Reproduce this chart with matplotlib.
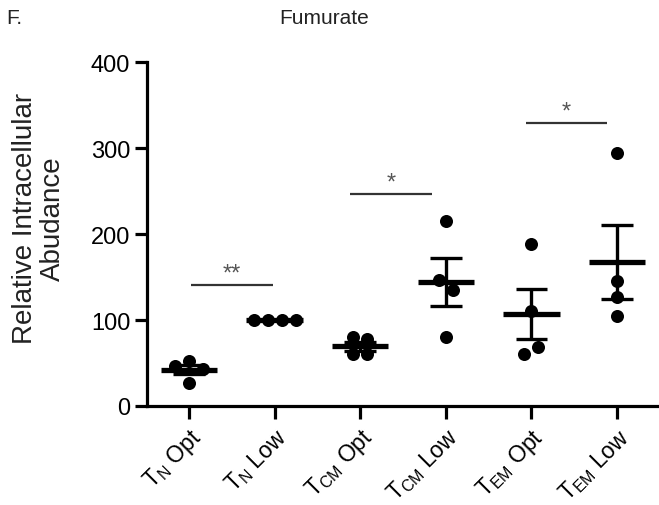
import matplotlib
matplotlib.use("Agg")
import matplotlib.pyplot as plt
import numpy as np

plt.rcParams["font.family"] = ["Liberation Sans", "DejaVu Sans"]
plt.rcParams["mathtext.fontset"] = "custom"
plt.rcParams["mathtext.rm"] = "Liberation Sans"
plt.rcParams["mathtext.it"] = "Liberation Sans:italic"

# values (relative intracellular abundance, fumarate)
tn_opt = [52, 43, 46, 27]
tn_low = [100, 100, 100, 100]
tcm_opt = [80, 78, 60, 60]
tcm_low = [215, 146, 135, 80]
tem_opt = [188, 110, 60, 69]
tem_low = [294, 145, 127, 105]
groups = [tn_opt, tn_low, tcm_opt, tcm_low, tem_opt, tem_low]

tick_labels = [
    r"T$_{\mathrm{N}}$ Opt",
    r"T$_{\mathrm{N}}$ Low",
    r"T$_{\mathrm{CM}}$ Opt",
    r"T$_{\mathrm{CM}}$ Low",
    r"T$_{\mathrm{EM}}$ Opt",
    r"T$_{\mathrm{EM}}$ Low",
]

# significance annotations: (label, bracket height, start, end in group units)
sig_labels = ["**", "*", "*"]
sig_heights = [141, 246, 329]
sig_spans = [(0.02, 0.98), (1.88, 2.84), (3.94, 4.88)]


def swarm_offsets(vals, ax, diam_px=14.0, step_px=7.0):
    """Greedy beeswarm in pixel space, clusters re-centred on the column."""
    x0, y0 = ax.transData.transform((0, 0))
    x1, y1 = ax.transData.transform((1, 1))
    px_x, px_y = x1 - x0, y1 - y0
    ys = np.asarray(vals, float) * px_y
    placed = []
    for y in ys:
        k = 0
        while True:
            for cand in ([0.0] if k == 0 else [k * step_px, -k * step_px]):
                if all((cand - px) ** 2 + (y - py) ** 2 >= diam_px ** 2 - 1e-6
                       for px, py in placed):
                    placed.append((cand, y))
                    break
            else:
                k += 1
                continue
            break
    offs = np.array([p[0] for p in placed])
    # group points chained by vertical proximity and centre each group
    order = np.argsort(ys)
    cluster = [order[0]]
    clusters = []
    for a, b in zip(order[:-1], order[1:]):
        if ys[b] - ys[a] < diam_px:
            cluster.append(b)
        else:
            clusters.append(cluster)
            cluster = [b]
    clusters.append(cluster)
    for c in clusters:
        mid = (offs[c].max() + offs[c].min()) / 2
        offs[c] -= mid
    return offs / px_x


fig = plt.figure(figsize=(6.59, 5.06), dpi=100)
ax = fig.add_axes([147 / 659, 1 - 407 / 506, 1 - 147 / 659, 344 / 506])
ax.set_xlim(-0.49, 5.49)
ax.set_ylim(0, 400)

for i, vals in enumerate(groups):
    offs = swarm_offsets(vals, ax)
    ax.scatter(i + offs, vals, s=88, color="black", zorder=3, linewidths=0)
    m = np.mean(vals)
    sem = np.std(vals, ddof=1) / np.sqrt(len(vals))
    ax.hlines(m, i - 0.33, i + 0.33, color="black", linewidth=3.8, zorder=4)
    if sem > 0:
        ax.vlines(i, m - sem, m + sem, color="black", linewidth=2.4, zorder=4)
        ax.hlines([m - sem, m + sem], i - 0.185, i + 0.185,
                  color="black", linewidth=2.4, zorder=4)

for lab, h, (a, b) in zip(sig_labels, sig_heights, sig_spans):
    ax.plot([a, b], [h, h], color="#333333", linewidth=1.6, solid_capstyle="butt")
    ax.annotate(lab, xy=((a + b) / 2, h), xytext=(0, 4), textcoords="offset points",
                ha="center", va="baseline", fontsize=17, color="#555555")

for s in ["top", "right"]:
    ax.spines[s].set_visible(False)
for s in ["left", "bottom"]:
    ax.spines[s].set_linewidth(2.3)

ax.set_yticks([0, 100, 200, 300, 400])
ax.set_xticks(range(len(groups)))
ax.set_xticklabels(tick_labels, rotation=45, ha="right", va="top",
                   rotation_mode="anchor", fontsize=16.5)
ax.tick_params(axis="both", direction="out", length=9, width=2.3, labelsize=17)
ax.tick_params(axis="x", labelsize=16.5, pad=4)
ax.tick_params(axis="y", pad=3)

ax.set_ylabel("Relative Intracellular\nAbudance", fontsize=20, color="#222222",
              linespacing=1.1, va="center")
ax.yaxis.set_label_coords(-0.211, 0.547)

fig.text(324 / 659, 1 - 18 / 506, "Fumurate", ha="center", va="center",
         fontsize=15, color="#222222")
fig.text(6 / 659, 1 - 18 / 506, "F.", ha="left", va="center",
         fontsize=15, color="#222222")

fig.savefig("out.png", dpi=100, facecolor="white")
